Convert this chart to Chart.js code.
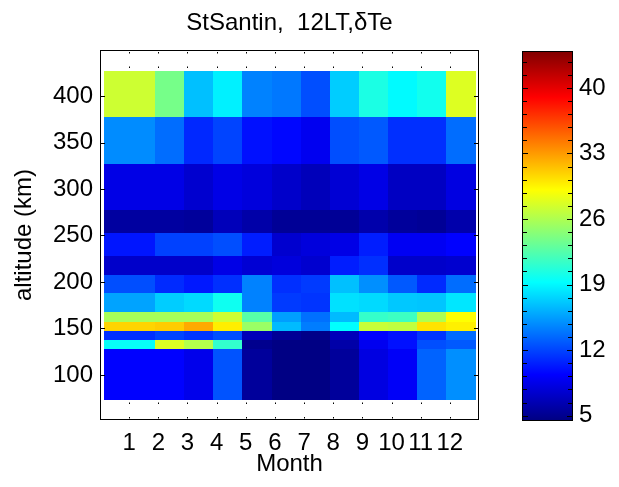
<!DOCTYPE html>
<html>
<head>
<meta charset="utf-8">
<script src="https://cdn.jsdelivr.net/npm/chart.js@4"></script>
<style>
  body { margin: 0; background: #fff; }
  #wrap { position: relative; width: 619px; height: 487px; }
  canvas { position: absolute; top: 0; }
  #map { left: 0; }
  #bar { left: 500px; }
</style>
</head>
<body>
<div id="wrap">
  <canvas id="map" width="500" height="487"></canvas>
  <canvas id="bar" width="119" height="487"></canvas>
</div>
<script>
// months on the x axis, cell edges as plotted
const months = [1, 2, 3, 4, 5, 6, 7, 8, 9, 10, 11, 12];
const monthEdges = [0.13, 1.88, 2.88, 3.88, 4.88, 5.89, 6.89, 7.89, 8.88, 9.87, 10.87, 11.87, 12.88];

// altitude bin edges (km), bottom to top
const altEdges = [73.0, 127.9, 137.5, 147.2, 157.3, 167.3, 187.7, 207.5, 227.9, 253.0, 277.4, 326.9, 377.8, 426.9];
const altTicks = [100, 150, 200, 250, 300, 350, 400];

// dTe per altitude bin (rows bottom to top), one value per month
const dTe = [
    [9.4, 9.4, 8.6, 12.6, 5.5, 4.6, 4.6, 5.5, 8.2, 9.1, 13.2, 14.9],
    [19.5, 27.8, 26.2, 21.2, 5.0, 4.6, 4.6, 6.0, 8.8, 10.0, 12.4, 12.8],
    [11.2, 12.0, 11.4, 12.4, 6.6, 5.3, 4.8, 6.7, 9.4, 10.0, 11.4, 13.5],
    [30.8, 31.1, 32.4, 29.8, 25.2, 16.6, 14.2, 19.3, 27.0, 26.7, 30.2, 29.7],
    [25.7, 25.7, 25.7, 27.2, 22.6, 15.5, 13.7, 16.6, 21.3, 21.6, 26.0, 29.1],
    [15.7, 17.3, 17.8, 19.8, 14.4, 11.6, 11.4, 18.1, 17.8, 17.1, 17.0, 18.3],
    [12.4, 11.0, 10.3, 11.2, 14.4, 11.2, 11.6, 16.8, 14.9, 12.8, 11.0, 13.6],
    [7.3, 7.3, 7.3, 8.4, 7.7, 8.0, 7.5, 10.5, 11.2, 7.3, 7.3, 7.5],
    [10.2, 11.9, 11.9, 12.4, 10.5, 7.5, 8.0, 8.4, 10.5, 8.9, 8.9, 9.4],
    [5.7, 5.7, 5.5, 6.7, 6.0, 5.3, 5.3, 5.3, 6.1, 5.5, 5.3, 6.1],
    [8.4, 8.4, 7.5, 8.4, 8.0, 7.3, 6.7, 7.7, 8.4, 7.0, 7.0, 8.2],
    [14.8, 13.6, 10.9, 12.0, 10.0, 9.6, 8.8, 12.4, 12.8, 11.2, 11.2, 13.6],
    [27.2, 23.8, 16.8, 18.7, 14.4, 14.0, 12.4, 17.3, 20.3, 19.1, 19.9, 27.8]
];

// colour scale
const cbTicks = [5, 12, 19, 26, 33, 40];
const cbMinorStep = 1.4;
const cMin = 4.43, cMax = 43.94;

Chart.defaults.font.family = "'Liberation Sans', Arial, sans-serif";
Chart.defaults.color = '#000';

function clamp(v) { return Math.max(0, Math.min(1, v)); }

function jet(v) {
    const t = clamp((v - cMin) / (cMax - cMin));
    const r = clamp(Math.min(4 * t - 1.5, -4 * t + 4.5));
    const g = clamp(Math.min(4 * t - 0.5, -4 * t + 3.5));
    const b = clamp(Math.min(4 * t + 0.5, -4 * t + 2.5));
    return 'rgb(' + Math.round(r * 255) + ',' + Math.round(g * 255) + ',' + Math.round(b * 255) + ')';
}

const heatmap = {
    id: 'heatmap',
    beforeDatasetsDraw(chart) {
        const { ctx, scales: { x, y } } = chart;
        const xs = monthEdges.map(v => Math.round(x.getPixelForValue(v)));
        const ys = altEdges.map(v => Math.round(y.getPixelForValue(v)));
        ctx.save();
        dTe.forEach((row, i) => row.forEach((v, j) => {
            ctx.fillStyle = jet(v);
            ctx.fillRect(xs[j], ys[i + 1], xs[j + 1] - xs[j], ys[i] - ys[i + 1]);
        }));
        ctx.restore();
    },
    afterDraw(chart) {
        const { ctx, chartArea: a, scales: { x, y } } = chart;
        ctx.save();
        ctx.strokeStyle = '#000';
        ctx.lineWidth = 1;
        // dotted month ticks, top and bottom
        ctx.setLineDash([1.5, 13]);
        months.forEach(m => {
            const px = Math.round(x.getPixelForValue(m)) + 0.5;
            ctx.beginPath();
            ctx.moveTo(px, a.top + 2); ctx.lineTo(px, a.top + 20);
            ctx.moveTo(px, a.bottom - 1.5); ctx.lineTo(px, a.bottom - 20);
            ctx.stroke();
        });
        ctx.setLineDash([]);
        // altitude ticks, left and right
        ctx.beginPath();
        altTicks.forEach(v => {
            const py = Math.round(y.getPixelForValue(v)) + 0.5;
            ctx.moveTo(a.left, py); ctx.lineTo(a.left + 5, py);
            ctx.moveTo(a.right, py); ctx.lineTo(a.right - 5, py);
        });
        ctx.stroke();
        ctx.strokeRect(a.left + 0.5, a.top + 0.5, a.right - a.left - 1, a.bottom - a.top - 1);
        ctx.restore();
    }
};

new Chart(document.getElementById('map'), {
    type: 'scatter',
    data: { datasets: [] },
    options: {
        responsive: false, animation: false,
        layout: { padding: { right: 21 } },
        plugins: {
            legend: { display: false }, tooltip: { enabled: false },
            title: { display: true, text: 'StSantin,  12LT,δTe', fullSize: false, color: '#000',
                     font: { size: 24, weight: 'normal' }, padding: { top: 9, bottom: 12.2 } }
        },
        scales: {
            x: {
                type: 'linear', min: 0, max: 13,
                grid: { display: false, drawTicks: false }, border: { display: false },
                afterBuildTicks: s => { s.ticks = months.map(v => ({ value: v })); },
                afterFit: s => { s.height = 67; },
                ticks: { font: { size: 24 }, color: '#000', padding: 8.6, maxRotation: 0, autoSkip: false },
                title: { display: true, text: 'Month', color: '#000', font: { size: 24 }, padding: { top: 0, bottom: 8 } }
            },
            y: {
                type: 'linear', min: 51.5, max: 449.5,
                grid: { display: false, drawTicks: false }, border: { display: false },
                afterBuildTicks: s => { s.ticks = altTicks.map(v => ({ value: v })); },
                afterFit: s => { s.width = 100; },
                ticks: { font: { size: 24 }, color: '#000', padding: 7 },
                title: { display: true, text: 'altitude (km)', color: '#000', font: { size: 24 }, padding: { top: 10, bottom: 0 } }
            }
        }
    },
    plugins: [heatmap]
});

const colorbar = {
    id: 'colorbar',
    beforeDatasetsDraw(chart) {
        const { ctx, chartArea: a, scales: { y } } = chart;
        const grad = ctx.createLinearGradient(0, y.getPixelForValue(cMin), 0, y.getPixelForValue(cMax));
        [0, 0.125, 0.375, 0.625, 0.875, 1].forEach(t => grad.addColorStop(t, jet(cMin + t * (cMax - cMin))));
        ctx.save();
        ctx.fillStyle = grad;
        ctx.fillRect(a.left, a.top, a.right - a.left, a.bottom - a.top);
        ctx.strokeStyle = '#000';
        ctx.lineWidth = 1;
        ctx.beginPath();
        for (let v = cbTicks[0]; v <= cMax; v += cbMinorStep) {
            const major = cbTicks.some(t => Math.abs(t - v) < 0.01);
            const len = major ? 6 : 5;
            const py = Math.round(y.getPixelForValue(v)) + 0.5;
            ctx.moveTo(a.left, py); ctx.lineTo(a.left + len, py);
            ctx.moveTo(a.right, py); ctx.lineTo(a.right - len, py);
        }
        ctx.stroke();
        ctx.strokeRect(a.left + 0.5, a.top + 0.5, a.right - a.left - 1, a.bottom - a.top - 1);
        ctx.restore();
    }
};

new Chart(document.getElementById('bar'), {
    type: 'scatter',
    data: { datasets: [] },
    options: {
        responsive: false, animation: false,
        layout: { padding: { left: 22, top: 51, bottom: 66 } },
        plugins: { legend: { display: false }, tooltip: { enabled: false } },
        scales: {
            x: { display: false, min: 0, max: 1 },
            y: {
                position: 'right', min: cMin, max: cMax,
                grid: { display: false, drawTicks: false }, border: { display: false },
                afterBuildTicks: s => { s.ticks = cbTicks.map(v => ({ value: v })); },
                afterFit: s => { s.width = 46; },
                ticks: { font: { size: 24 }, color: '#000', padding: 6 }
            }
        }
    },
    plugins: [colorbar]
});
</script>
</body>
</html>
